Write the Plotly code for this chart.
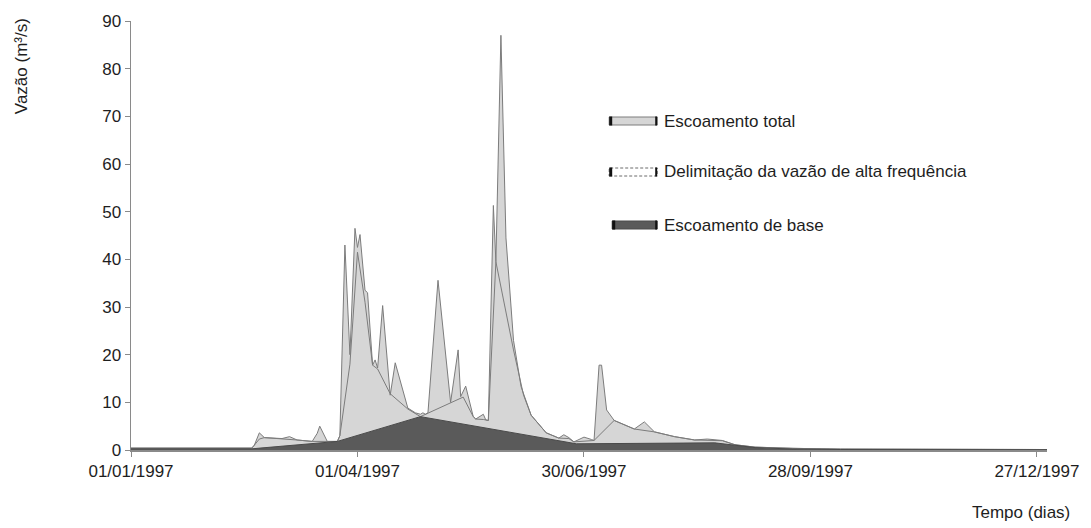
import plotly.graph_objects as go

# ---------------- data ----------------
total_dates = ["1997-01-01", "1997-01-20", "1997-02-09", "1997-02-18", "1997-02-19", "1997-02-21",
               "1997-02-23", "1997-03-02", "1997-03-05", "1997-03-08", "1997-03-14", "1997-03-16",
               "1997-03-17", "1997-03-19", "1997-03-20", "1997-03-24", "1997-03-25", "1997-03-27",
               "1997-03-29", "1997-03-31", "1997-04-01", "1997-04-02", "1997-04-04", "1997-04-05",
               "1997-04-07", "1997-04-08", "1997-04-09", "1997-04-11", "1997-04-14", "1997-04-16",
               "1997-04-21", "1997-04-24", "1997-04-26", "1997-04-27", "1997-04-28", "1997-04-29",
               "1997-05-03", "1997-05-08", "1997-05-11", "1997-05-12", "1997-05-14", "1997-05-17",
               "1997-05-18", "1997-05-21", "1997-05-22", "1997-05-23", "1997-05-25", "1997-05-26",
               "1997-05-28", "1997-05-30", "1997-06-02", "1997-06-05", "1997-06-09", "1997-06-15",
               "1997-06-20", "1997-06-22", "1997-06-24", "1997-06-26", "1997-06-30", "1997-07-03",
               "1997-07-04", "1997-07-06", "1997-07-07", "1997-07-09", "1997-07-12", "1997-07-20",
               "1997-07-24", "1997-07-28", "1997-08-05", "1997-08-13", "1997-08-18", "1997-08-24",
               "1997-08-29", "1997-09-06", "1997-09-21", "1997-10-10", "1997-11-15", "1997-12-31"]
total_flow = [0.4, 0.35, 0.3, 0.4, 1.0, 3.6,
              2.6, 2.4, 2.8, 2.1, 1.8, 3.5,
              5.0, 3.0, 1.8, 1.8, 3.0, 43.0,
              20.0, 46.5, 42.5, 45.2, 33.5, 33.0,
              17.8, 18.9, 17.2, 30.3, 11.5, 18.3,
              8.8, 7.8, 7.5, 7.8, 7.5, 7.8,
              35.6, 10.0, 21.0, 11.2, 13.4, 7.0,
              6.5, 7.5, 6.3, 6.2, 51.3, 39.5,
              87.0, 44.5, 23.0, 13.3, 7.3, 3.6,
              2.5, 3.2, 2.6, 1.7, 2.7, 2.2,
              2.0, 17.8, 17.8, 8.4, 6.2, 4.4,
              5.9, 3.8, 2.8, 2.1, 2.3, 2.0,
              1.1, 0.6, 0.35, 0.2, 0.15, 0.1]

delim_dates = ["1997-01-01", "1997-02-18", "1997-02-19", "1997-02-21", "1997-02-23", "1997-03-02",
               "1997-03-05", "1997-03-08", "1997-03-14", "1997-03-20", "1997-03-24", "1997-03-25",
               "1997-03-29", "1997-04-01", "1997-04-04", "1997-04-07", "1997-04-09", "1997-04-14",
               "1997-04-21", "1997-04-26", "1997-05-13", "1997-05-17", "1997-05-18", "1997-05-21",
               "1997-05-23", "1997-05-26", "1997-06-02", "1997-06-06", "1997-06-09", "1997-06-15",
               "1997-06-20", "1997-06-24", "1997-06-26", "1997-07-04", "1997-07-12", "1997-07-20",
               "1997-07-28", "1997-08-05", "1997-08-13", "1997-08-24", "1997-08-29", "1997-09-06",
               "1997-09-21", "1997-10-10", "1997-11-15", "1997-12-31"]
delim_flow = [0.4, 0.4, 1.0, 2.3, 2.6, 2.4,
              2.3, 2.1, 1.8, 1.8, 1.8, 3.0,
              18.0, 41.5, 31.0, 17.8, 17.0, 11.8,
              8.6, 7.0, 11.1, 7.0, 6.5, 6.4,
              6.2, 39.5, 21.0, 11.5, 7.3, 3.6,
              2.5, 2.4, 1.7, 2.0, 6.2, 4.4,
              3.8, 2.8, 2.1, 1.95, 1.1, 0.6,
              0.35, 0.2, 0.15, 0.1]

base_dates = ["1997-01-01", "1997-02-18", "1997-03-24", "1997-04-26", "1997-06-27", "1997-08-18",
              "1997-08-21", "1997-08-29", "1997-09-06", "1997-09-21", "1997-10-10", "1997-12-31"]
base_flow = [0.25, 0.25, 1.8, 7.0, 1.3, 1.4,
             1.5, 1.0, 0.5, 0.2, 0.1, 0.05]

tick_dates = ["1997-01-01", "1997-04-01", "1997-06-30", "1997-09-28", "1997-12-27"]
tick_labels = ["01/01/1997", "01/04/1997", "30/06/1997", "28/09/1997", "27/12/1997"]

series_names = ["Escoamento total", "Delimitação da vazão de alta frequência", "Escoamento de base"]
y_title = "Vazão (m³/s)"
x_title = "Tempo (dias)"

# ---------------- styles ----------------
FONT = "Liberation Sans, Arial, sans-serif"
TXT = "#1e1e1e"
AX = "#8a8a8a"
LIGHT = "#d6d6d6"
LIGHT_LINE = "#7c7c7c"
DARK = "#5a5a5a"
DARK_LINE = "#4a4a4a"

fig = go.Figure()
fig.add_trace(go.Scatter(x=total_dates, y=total_flow, mode="lines", fill="tozeroy",
                         fillcolor=LIGHT, line=dict(color=LIGHT_LINE, width=1),
                         name=series_names[0], showlegend=False))
fig.add_trace(go.Scatter(x=delim_dates, y=delim_flow, mode="lines",
                         line=dict(color=LIGHT_LINE, width=1),
                         name=series_names[1], showlegend=False))
fig.add_trace(go.Scatter(x=base_dates, y=base_flow, mode="lines", fill="tozeroy",
                         fillcolor=DARK, line=dict(color=DARK_LINE, width=1),
                         name=series_names[2], showlegend=False))

W, H = 1091, 528
ml, mr, mt, mb = 131, 34, 21, 78

fig.update_layout(
    width=W, height=H,
    margin=dict(l=ml, r=mr, t=mt, b=mb),
    paper_bgcolor="white", plot_bgcolor="white",
    font=dict(family=FONT, size=17, color=TXT),
    showlegend=False,
    xaxis=dict(type="date", range=["1997-01-01", "1997-12-31"],
               tickmode="array", tickvals=tick_dates, ticktext=tick_labels,
               showline=True, linecolor=AX, linewidth=1.5,
               ticks="outside", ticklen=5, tickcolor=AX,
               showgrid=False, zeroline=False,
               tickfont=dict(size=17, color=TXT, family=FONT)),
    yaxis=dict(range=[0, 90], dtick=10, tick0=0,
               showline=True, linecolor=AX, linewidth=1.5,
               ticks="outside", ticklen=5, tickcolor=AX,
               showgrid=False, zeroline=False,
               tickfont=dict(size=17, color=TXT, family=FONT)),
)

pw = W - ml - mr
ph = H - mt - mb

def px_x(x):
    return (x - ml) / pw

def px_y(y):
    return (H - mb - y) / ph

annotations = [
    dict(text=y_title, xref="paper", yref="paper", x=px_x(20), y=px_y(66),
         textangle=-90, showarrow=False, xanchor="center", yanchor="middle",
         font=dict(size=17, color=TXT, family=FONT)),
    dict(text=x_title, xref="paper", yref="paper", x=px_x(1031), y=px_y(512),
         showarrow=False, xanchor="center", yanchor="middle",
         font=dict(size=17, color=TXT, family=FONT)),
]

legend_rows = [121, 172, 225]
legend_text_x = px_x(668)
shapes = []
legend_styles = [
    dict(fill=LIGHT, line=LIGHT_LINE, dash="solid", x0=-53),
    dict(fill="white", line="#6a6a6a", dash="3px,2px", x0=-53),
    dict(fill=DARK, line=DARK_LINE, dash="solid", x0=-50),
]
for name, yrow, st in zip(series_names, legend_rows, legend_styles):
    yr = px_y(yrow)
    annotations.append(dict(text=name, xref="paper", yref="paper", x=legend_text_x, y=yr,
                            showarrow=False, xanchor="left", yanchor="middle",
                            font=dict(size=17, color=TXT, family=FONT)))
    shapes.append(dict(type="rect", xref="paper", yref="paper",
                       xsizemode="pixel", ysizemode="pixel",
                       xanchor=legend_text_x, yanchor=yr,
                       x0=st["x0"], x1=-5, y0=-4, y1=4,
                       fillcolor=st["fill"], line=dict(color=st["line"], width=1, dash=st["dash"])))
    shapes.append(dict(type="rect", xref="paper", yref="paper",
                       xsizemode="pixel", ysizemode="pixel",
                       xanchor=legend_text_x, yanchor=yr,
                       x0=st["x0"], x1=st["x0"] + 3, y0=-4.5, y1=4.5,
                       fillcolor="#111111", line=dict(width=0)))
    shapes.append(dict(type="rect", xref="paper", yref="paper",
                       xsizemode="pixel", ysizemode="pixel",
                       xanchor=legend_text_x, yanchor=yr,
                       x0=-7, x1=-5, y0=-4.5, y1=4.5,
                       fillcolor="#111111", line=dict(width=0)))

fig.update_layout(annotations=annotations, shapes=shapes)

fig.write_html("out.html",
               config={"displayModeBar": False, "staticPlot": True},
               post_script="document.body.style.margin='0';document.body.style.padding='0';"
                           "document.body.style.overflow='hidden';")
